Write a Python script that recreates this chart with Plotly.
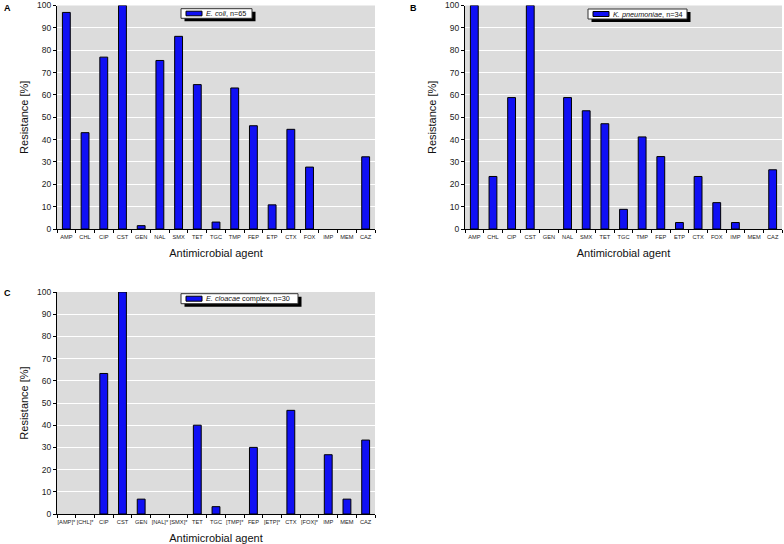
import plotly.graph_objects as go

W, H = 784, 544

# ---------------- data ----------------
agents = ["AMP", "CHL", "CIP", "CST", "GEN", "NAL", "SMX", "TET", "TGC",
          "TMP", "FEP", "ETP", "CTX", "FOX", "IMP", "MEM", "CAZ"]
agents_c = ["[AMP]*", "[CHL]*", "CIP", "CST", "GEN", "[NAL]*", "[SMX]*", "TET", "TGC",
            "[TMP]*", "FEP", "[ETP]*", "CTX", "[FOX]*", "IMP", "MEM", "CAZ"]

ecoli = [96.9, 43.1, 76.9, 100, 1.5, 75.4, 86.2, 64.6, 3.1,
         63.1, 46.2, 10.8, 44.6, 27.7, 0, 0, 32.3]
kpneumoniae = [100, 23.5, 58.8, 100, 0, 58.8, 52.9, 47.1, 8.8,
               41.2, 32.4, 2.9, 23.5, 11.8, 2.9, 0, 26.5]
ecloacae = [0, 0, 63.3, 100, 6.7, 0, 0, 40.0, 3.3,
            0, 30.0, 0, 46.7, 0, 26.7, 6.7, 33.3]

species_italic = ["E. coli", "K. pneumoniae", "E. cloacae"]
species_suffix = ["", "", " complex"]
n_isolates = [65, 34, 30]
panel_letters = ["A", "B", "C"]

y_title = "Resistance [%]"
x_title = "Antimicrobial agent"

# ---------------- layout helpers (pixels) ----------------
FONT = "Liberation Sans, Arial, sans-serif"
BLUE = "#1010F4"

panels = [
    dict(cats=agents, vals=ecoli, px=(57, 375), py=(5.5, 229),
         leg=(181, 8.7, 252, 18.3), letter=(7, 7.5)),
    dict(cats=agents, vals=kpneumoniae, px=(465, 782), py=(5.5, 229),
         leg=(588, 9, 687, 19), letter=(413, 7.5)),
    dict(cats=agents_c, vals=ecloacae, px=(57, 375), py=(292, 514),
         leg=(181, 293.7, 298, 303.7), letter=(7, 293)),
]


def fx(p):
    return p / W


def fy(p):
    return 1 - p / H


fig = go.Figure()
shapes = []
annotations = []

for i, p in enumerate(panels):
    k = "" if i == 0 else str(i + 1)
    xa, ya = "x" + k, "y" + k
    vals = p["vals"]
    fig.add_trace(go.Bar(
        x=p["cats"], y=vals, xaxis=xa, yaxis=ya,
        width=0.42,
        marker=dict(color=BLUE,
                    line=dict(color="#000000",
                              width=[1 if v > 0 else 0 for v in vals])),
        showlegend=False,
        name=f"{species_italic[i]}{species_suffix[i]}, n={n_isolates[i]}",
    ))
    fig.layout["xaxis" + k] = dict(
        domain=[fx(p["px"][0]), fx(p["px"][1])], anchor=ya,
        type="category", categoryorder="array", categoryarray=p["cats"],
        range=[-0.5, len(p["cats"]) - 0.5],
        tickson="boundaries", ticks="outside", ticklen=3, tickcolor="#000",
        tickangle=0, automargin=False, ticklabelstandoff=2,
        showline=True, linecolor="#000", linewidth=1, showgrid=False,
        tickfont=dict(family=FONT, size=5.7, color="#222"),
        title=dict(text=x_title, font=dict(family=FONT, size=11, color="#111"),
                   standoff=10),
        fixedrange=True,
    )
    fig.layout["yaxis" + k] = dict(
        domain=[fy(p["py"][1]), fy(p["py"][0])], anchor=xa,
        range=[0, 100], tick0=0, dtick=10, automargin=False,
        ticks="outside", ticklen=3, tickcolor="#000",
        showline=True, linecolor="#000", linewidth=1,
        showgrid=True, gridcolor="#ffffff", gridwidth=1, zeroline=False,
        tickfont=dict(family=FONT, size=8.5, color="#222"),
        title=dict(text=y_title, font=dict(family=FONT, size=11, color="#111"),
                   standoff=6),
        fixedrange=True,
    )

    # custom legend box with drop shadow
    x0, y0, x1, y1 = p["leg"]
    shapes.append(dict(type="rect", xref="paper", yref="paper", layer="above",
                       x0=fx(x0 + 3.5), x1=fx(x1 + 3.5), y0=fy(y1 + 3), y1=fy(y0 + 3),
                       fillcolor="#000", line=dict(width=0)))
    shapes.append(dict(type="rect", xref="paper", yref="paper", layer="above",
                       x0=fx(x0), x1=fx(x1), y0=fy(y1), y1=fy(y0),
                       fillcolor="#fff", line=dict(color="#333", width=1)))
    shapes.append(dict(type="rect", xref="paper", yref="paper", layer="above",
                       x0=fx(x0 + 5), x1=fx(x0 + 21), y0=fy(y1 - 2.5), y1=fy(y0 + 2.5),
                       fillcolor=BLUE, line=dict(color="#000", width=1)))
    annotations.append(dict(
        xref="paper", yref="paper", x=fx(x0 + 23), y=fy((y0 + y1) / 2),
        xanchor="left", yanchor="middle", showarrow=False,
        text=f"<i>{species_italic[i]}</i>{species_suffix[i]}, n={n_isolates[i]}",
        font=dict(family=FONT, size=7.3, color="#111"),
    ))
    lx, ly = p["letter"]
    annotations.append(dict(
        xref="paper", yref="paper", x=fx(lx), y=fy(ly),
        xanchor="center", yanchor="middle", showarrow=False,
        text=f"<b>{panel_letters[i]}</b>",
        font=dict(family=FONT, size=9, color="#000"),
    ))

fig.update_layout(
    width=W, height=H,
    margin=dict(l=0, r=0, t=0, b=0),
    paper_bgcolor="#ffffff",
    plot_bgcolor="#dcdcdc",
    shapes=shapes,
    annotations=annotations,
)

fig.write_html(
    "out.html",
    config={"displayModeBar": False, "staticPlot": True},
    post_script="document.body.style.margin='0';document.body.style.padding='0';"
                "document.body.style.overflow='hidden';",
)
